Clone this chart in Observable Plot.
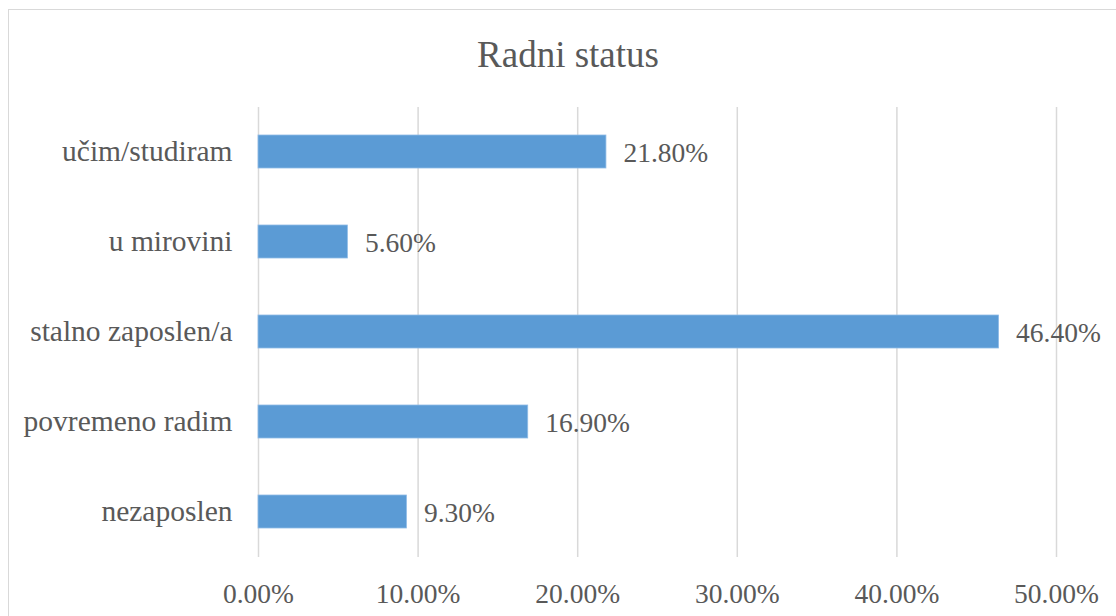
<!DOCTYPE html>
<html>
<head>
<meta charset="utf-8">
<script src="https://cdn.jsdelivr.net/npm/d3@7"></script>
<script src="https://cdn.jsdelivr.net/npm/@observablehq/plot@0.6"></script>
<style>
  html, body { margin: 0; padding: 0; background: #fff; overflow: hidden; }
  #wrap { position: relative; width: 1116px; height: 616px; overflow: hidden; }
  #border { position: absolute; left: 8px; top: 9px; width: 1200px; height: 700px; border: 1.5px solid #d9d9d9; box-sizing: border-box; }
  #title { position: absolute; left: 0; top: 30px; width: 1136px; text-align: center; font-family: 'Liberation Serif', serif; font-size: 37px; color: #595959; line-height: 50px; }
  #chart { position: absolute; left: 0; top: 0; }
  #chart svg, #chart svg text { font-family: 'Liberation Serif', serif !important; }
</style>
</head>
<body>
<div id="wrap">
  <div id="border"></div>
  <div id="title">Radni status</div>
  <div id="chart"></div>
</div>
<script>
const categories = ["učim/studiram", "u mirovini", "stalno zaposlen/a", "povremeno radim", "nezaposlen"];
const values = [21.8, 5.6, 46.4, 16.9, 9.3];
const xTicks = [0, 10, 20, 30, 40, 50];
const titleText = "Radni status";

document.getElementById("title").textContent = titleText;

const data = categories.map((c, i) => ({category: c, value: values[i]}));
const fmt = d => d.toFixed(2) + "%";
const FONT = "Liberation Serif";

const chart = Plot.plot({
  width: 1116,
  height: 616,
  marginTop: 107,
  marginBottom: 59,
  marginLeft: 258,
  marginRight: 60,
  style: {fontSize: "27.5px", color: "#595959", background: "transparent"},
  x: {domain: [0, 50], ticks: xTicks, tickFormat: fmt, label: null},
  y: {domain: categories, paddingInner: 0.63, paddingOuter: 0.315, label: null},
  marks: [
    Plot.ruleX(xTicks, {stroke: "#d9d9d9", strokeWidth: 1.5}),
    Plot.barX(data, {y: "category", x: "value", fill: "#5b9bd5", stroke: "#8fbbe6", strokeWidth: 0.8}),
    Plot.text(data, {y: "category", x: "value", text: d => fmt(d.value), textAnchor: "start", dx: 17, dy: 1.5, fill: "#595959", fontSize: 27.5, fontFamily: FONT}),
    Plot.axisX({ticks: xTicks, tickFormat: fmt, tickSize: 0, tickPadding: 26, fontSize: 27.5, fontFamily: FONT, fill: "#595959", label: null}),
    Plot.axisY({tickSize: 0, tickPadding: 26, fontSize: 29.5, fontFamily: FONT, fill: "#595959", label: null})
  ]
});
document.getElementById("chart").appendChild(chart);
</script>
</body>
</html>
